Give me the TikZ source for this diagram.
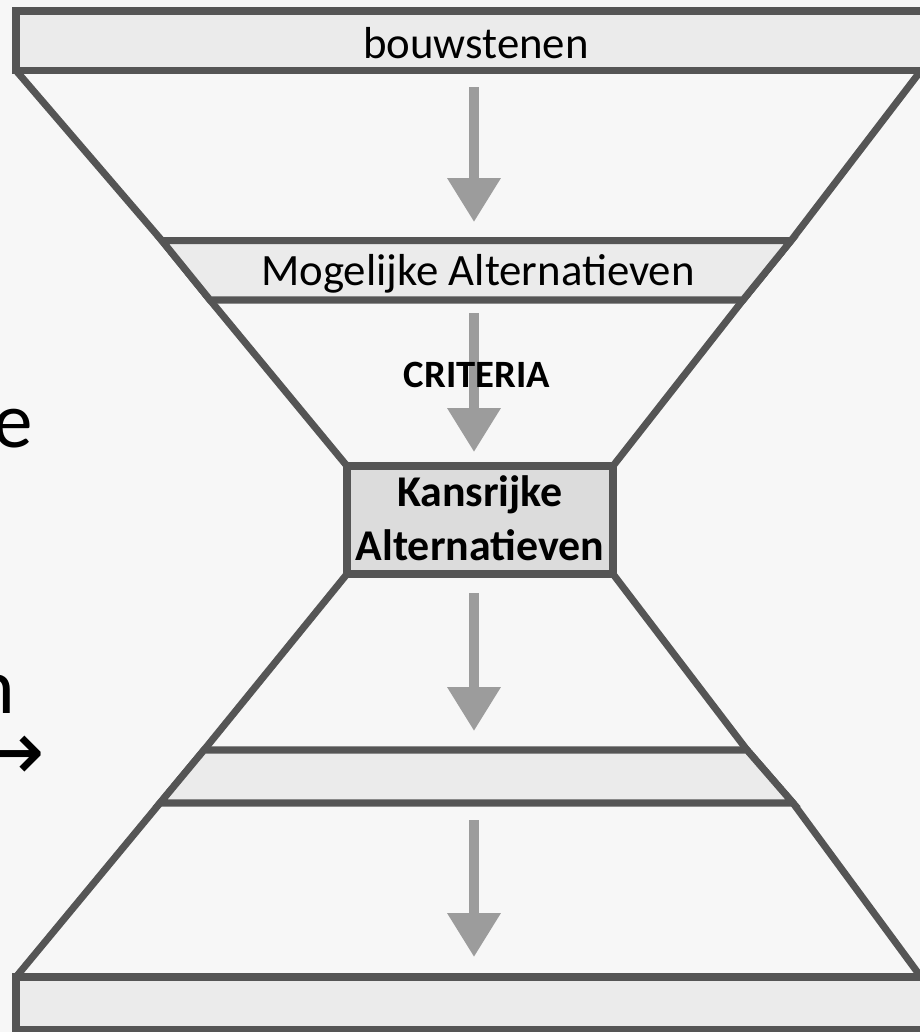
\documentclass[tikz,border=0pt]{standalone}
\usepackage{fontspec}
\setmainfont{Carlito}
\newfontfamily\arrowfont{DejaVu Sans}
\usetikzlibrary{arrows.meta}
\definecolor{edgegray}{HTML}{555555}
\definecolor{bandgray}{HTML}{EBEBEB}
\definecolor{boxgray}{HTML}{DCDCDC}
\definecolor{arrowgray}{HTML}{9C9C9C}
\definecolor{paper}{HTML}{F7F7F7}

\begin{document}
\begin{tikzpicture}[x=0.02cm, y=-0.02cm,
    outline/.style={draw=edgegray, line width=4pt, line join=miter},
    band/.style={outline, fill=bandgray},
    label/.style={font=\fontsize{25.5}{31}\selectfont, inner sep=0pt},
    flow/.style={draw=arrowgray, line width=5.7pt, -{Triangle[width=29pt, length=25pt]}},
    side/.style={font=\fontsize{45}{54}\selectfont, inner sep=0pt, anchor=base east}]
  \useasboundingbox (0,0) rectangle (920,1032);
  \clip (0,0) rectangle (920,1032);
  \fill[paper] (0,0) rectangle (920,1032);

  \draw[band] (16,11) rectangle (940,70.5);
  \draw[band] (16,977) rectangle (940,1030);

  \draw[outline] (16,70.5) -- (162,240.7) -- (210,300) -- (347,466);
  \draw[outline] (921,70.5) -- (791,240.7) -- (743,300) -- (613,466);
  \draw[outline] (347,574) -- (204,750) -- (160,803) -- (16,977);
  \draw[outline] (613,574) -- (747,750) -- (793,803) -- (921,977);

  \draw[band] (162,240.7) -- (791,240.7) -- (743,300) -- (210,300) -- cycle;
  \draw[band] (204,750) -- (747,750) -- (793,803) -- (160,803) -- cycle;
  \draw[outline, fill=boxgray] (347,466) rectangle (613,574);

  \node[label, anchor=base] (bouw) at (476,58) {bouwstenen};
  \node[label, anchor=base] (mogelijk) at (478,285) {Mogelijke Alternatieven};
  \node[label, font=\fontsize{25}{31}\selectfont\bfseries, align=center] (kans) at (480,518) {Kansrijke\\Alternatieven};

  \coordinate (a1) at (474,87);
  \coordinate (b1) at (474,222);
  \coordinate (a2) at (474,313);
  \coordinate (b2) at (474,452);
  \coordinate (a3) at (474,593);
  \coordinate (b3) at (474,731);
  \coordinate (a4) at (474,820);
  \coordinate (b4) at (474,957);
  \draw[flow] (a1) -- (b1);
  \draw[flow] (a2) -- (b2);
  \draw[flow] (a3) -- (b3);
  \draw[flow] (a4) -- (b4);

  \node[font=\fontsize{22}{26}\selectfont\bfseries, inner sep=0pt, anchor=base] (crit) at (477,387) {CRITERIA};

  \node[side] (frag1) at (33,447) {e};
  \node[side] (frag2) at (15,713) {n};
  \node[side, font=\arrowfont\fontsize{48}{56}\selectfont] (frag3) at (46,780) {→};
\end{tikzpicture}
\end{document}
